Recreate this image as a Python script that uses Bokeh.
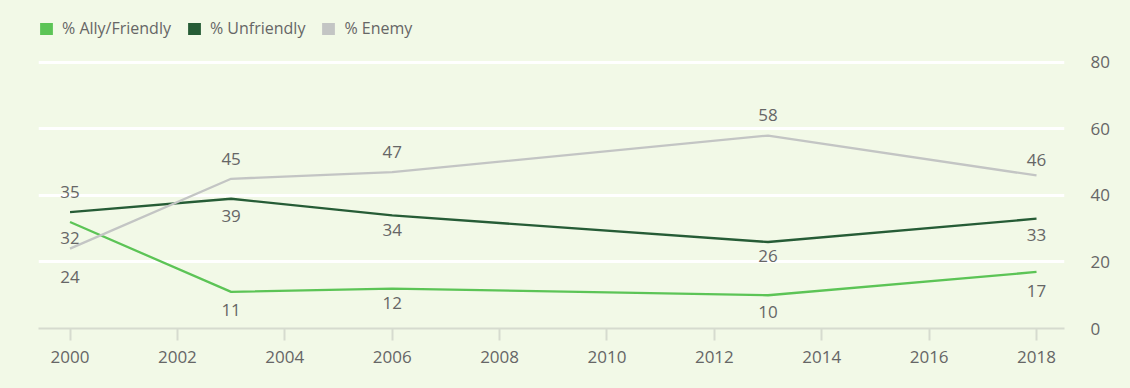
from bokeh.plotting import figure
from bokeh.models import (ColumnDataSource, Range1d, LinearAxis, FixedTicker,
                          Legend, LegendItem)
from bokeh.core.properties import value
from bokeh.embed import file_html
from bokeh.resources import INLINE

# ---------------- data ----------------
years = [2000, 2003, 2006, 2013, 2018]
ally_friendly = [32, 11, 12, 10, 17]
unfriendly = [35, 39, 34, 26, 33]
enemy = [24, 45, 47, 58, 46]
series_names = ["% Ally/Friendly", "% Unfriendly", "% Enemy"]
x_ticks = [2000, 2002, 2004, 2006, 2008, 2010, 2012, 2014, 2016, 2018]
y_ticks = [0, 20, 40, 60, 80]

# ---------------- style ----------------
BG = "#f2f9e7"
TXT = "#666666"
FONT = "Open Sans"
colors = ["#5cc456", "#265c36", "#c3c5c4"]
# label offsets in pixels (negative = above point)
label_offsets = [
    [16, 18, 14, 17, 19],
    [-20, 17, 15, 14, 16],
    [28, -20, -20, -21, -15],
]

p = figure(width=1130, height=388, output_backend="svg", toolbar_location=None,
           x_range=Range1d(1999.413, 2018.521), y_range=Range1d(0, 98.6),
           y_axis_location=None)
p.min_border_left = 38
p.min_border_right = 66
p.min_border_top = 0
p.min_border_bottom = 60
p.background_fill_color = BG
p.border_fill_color = BG
p.outline_line_color = None

# grid
p.xgrid.grid_line_color = None
p.ygrid.ticker = FixedTicker(ticks=y_ticks)
p.ygrid.grid_line_color = "white"
p.ygrid.grid_line_width = 3

# x axis
xa = p.xaxis[0]
xa.ticker = FixedTicker(ticks=x_ticks)
xa.axis_line_color = "#d6dbcf"
xa.axis_line_width = 2
xa.major_tick_line_color = "#d6dbcf"
xa.major_tick_line_width = 2
xa.major_tick_in = 0
xa.major_tick_out = 12
xa.minor_tick_line_color = None
xa.major_label_standoff = 10
xa.major_label_text_font = FONT
xa.major_label_text_font_size = "17px"
xa.major_label_text_color = TXT

# right axis
ra = LinearAxis(ticker=FixedTicker(ticks=y_ticks))
ra.axis_line_color = None
ra.major_tick_line_color = None
ra.minor_tick_line_color = None
ra.major_label_standoff = 20
ra.major_label_text_font = FONT
ra.major_label_text_font_size = "17px"
ra.major_label_text_color = TXT
p.add_layout(ra, "right")

nan = float("nan")
all_series = [ally_friendly, unfriendly, enemy]
legend_items = []
for name, vals, col, offs in zip(series_names, all_series, colors, label_offsets):
    src = ColumnDataSource(dict(x=years, y=vals, t=[str(v) for v in vals], off=offs))
    p.line("x", "y", source=src, line_color=col, line_width=2.3, line_join="round")
    p.text("x", "y", text="t", source=src, y_offset="off",
           text_align="center", text_baseline="middle",
           text_font=value(FONT), text_font_size="17px", text_color=TXT)
    sq = p.quad(left=[nan], right=[nan], top=[nan], bottom=[nan],
                fill_color=col, line_color=None)
    legend_items.append(LegendItem(label=name, renderers=[sq]))

legend = Legend(items=legend_items, orientation="horizontal",
                location=(0, 328 - 20 - 14 - 5))
legend.glyph_width = 16
legend.glyph_height = 15
legend.label_height = 15
legend.label_standoff = 8
legend.spacing = 15
legend.padding = 0
legend.margin = 0
legend.background_fill_alpha = 0
legend.border_line_color = None
legend.label_text_font = FONT
legend.label_text_font_size = "16px"
legend.label_text_color = TXT
p.add_layout(legend)

html = file_html(p, INLINE)
html = html.replace("</head>",
                    "<style>html,body{margin:0;padding:0;background-color:%s;}</style></head>" % BG, 1)
open("out.html", "w").write(html)
